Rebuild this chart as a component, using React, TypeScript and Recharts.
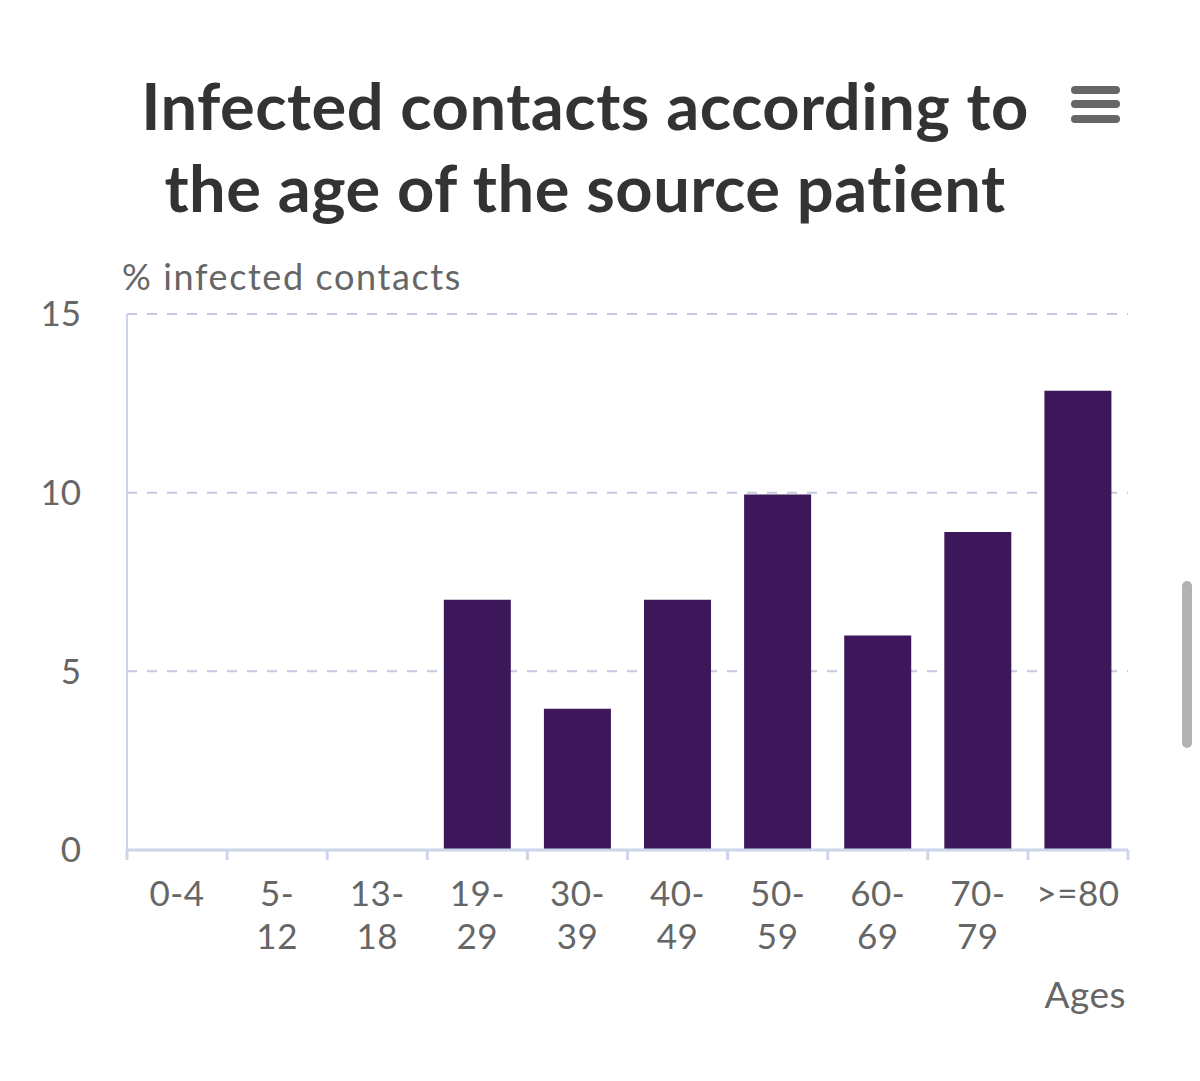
import React from "react";
import { BarChart, Bar, XAxis, YAxis, CartesianGrid } from "recharts";

const ages = ["0-4", "5-12", "13-18", "19-29", "30-39", "40-49", "50-59", "60-69", "70-79", ">=80"];
const infected = [0, 0, 0, 7, 3.95, 7, 9.95, 6, 8.9, 12.85];
const yTicks = [0, 5, 10, 15];

const data = ages.map((age, i) => ({ age, value: infected[i] }));

const FONT = "Lato, 'Open Sans', sans-serif";
const AXIS_COLOR = "#ccd6eb";

// split "5-12" into "5-" / "12" like the wrapped labels; short ones stay on one line
function splitLabel(label: string) {
  if (label.length <= 3 || label.startsWith(">")) return [label];
  const [a, b] = label.split("-");
  return [a + "-", b];
}

function AgeTick(props: any) {
  const { x, y, payload, index, visibleTicksCount, width } = props;
  const band = width && visibleTicksCount ? width / visibleTicksCount : 100;
  const half = band / 2;
  const lines = splitLabel(payload.value);
  return (
    <g>
      <line x1={x - half} x2={x - half} y1={y} y2={y + 10} stroke={AXIS_COLOR} strokeWidth={3} />
      {index === visibleTicksCount - 1 && (
        <line x1={x + half} x2={x + half} y1={y} y2={y + 10} stroke={AXIS_COLOR} strokeWidth={3} />
      )}
      {lines.map((t, i) => (
        <text key={i} x={x} y={y + 56 + i * 43} textAnchor="middle" fill="#666" fontSize={35} fontFamily={FONT} letterSpacing={0.5}>
          {t}
        </text>
      ))}
    </g>
  );
}

export default function App() {
  return (
    <div style={{ position: "relative", width: 1184, height: 1065, background: "#fff" }}>
      <BarChart
        width={1184}
        height={1065}
        data={data}
        margin={{ top: 306, right: 64, bottom: 163, left: 59 }}
        barCategoryGap="16.5%"
        style={{ position: "absolute", left: 0, top: 0 }}
      >
        <CartesianGrid
          vertical={false}
          stroke="#c3cadf"
          strokeWidth={2}
          strokeDasharray="10 10"
        />
        <XAxis
          dataKey="age"
          interval={0}
          tickLine={false}
          tickSize={0}
          tickMargin={0}
          axisLine={{ stroke: AXIS_COLOR, strokeWidth: 3 }}
          tick={<AgeTick />}
          height={60}
        />
        <YAxis
          width={60}
          domain={[0, 15]}
          ticks={yTicks}
          tickLine={false}
          tickSize={0}
          tickMargin={46}
          axisLine={{ stroke: AXIS_COLOR, strokeWidth: 2 }}
          tick={{ fill: "#666", fontSize: 35, fontFamily: FONT }}
        />
        <Bar dataKey="value" fill="#3c1759" isAnimationActive={false} />
      </BarChart>
      <svg
        width={1184}
        height={1065}
        style={{ position: "absolute", left: 0, top: 0, pointerEvents: "none" }}
      >
        <text x={577} y={122} textAnchor="middle" fill="#333" fontSize={65} fontWeight={700} fontFamily={FONT} letterSpacing={0.5}>
          Infected contacts according to
        </text>
        <text x={577} y={204} textAnchor="middle" fill="#333" fontSize={65} fontWeight={700} fontFamily={FONT} letterSpacing={0.5}>
          the age of the source patient
        </text>
        <text x={114} y={282} fill="#666" fontSize={36} fontFamily={FONT} letterSpacing={1.6}>
          % infected contacts
        </text>
        <text x={1118} y={1000} textAnchor="end" fill="#666" fontSize={37} fontFamily={FONT} letterSpacing={0.5}>
          Ages
        </text>
      </svg>
      {[78, 92, 107].map((top) => (
        <div
          key={top}
          style={{ position: "absolute", left: 1063, top, width: 49, height: 8, borderRadius: 4, background: "#666" }}
        />
      ))}
      <div
        style={{ position: "absolute", left: 1174, top: 573, width: 10, height: 167, borderRadius: 5, background: "#b3b3b3" }}
      />
    </div>
  );
}
